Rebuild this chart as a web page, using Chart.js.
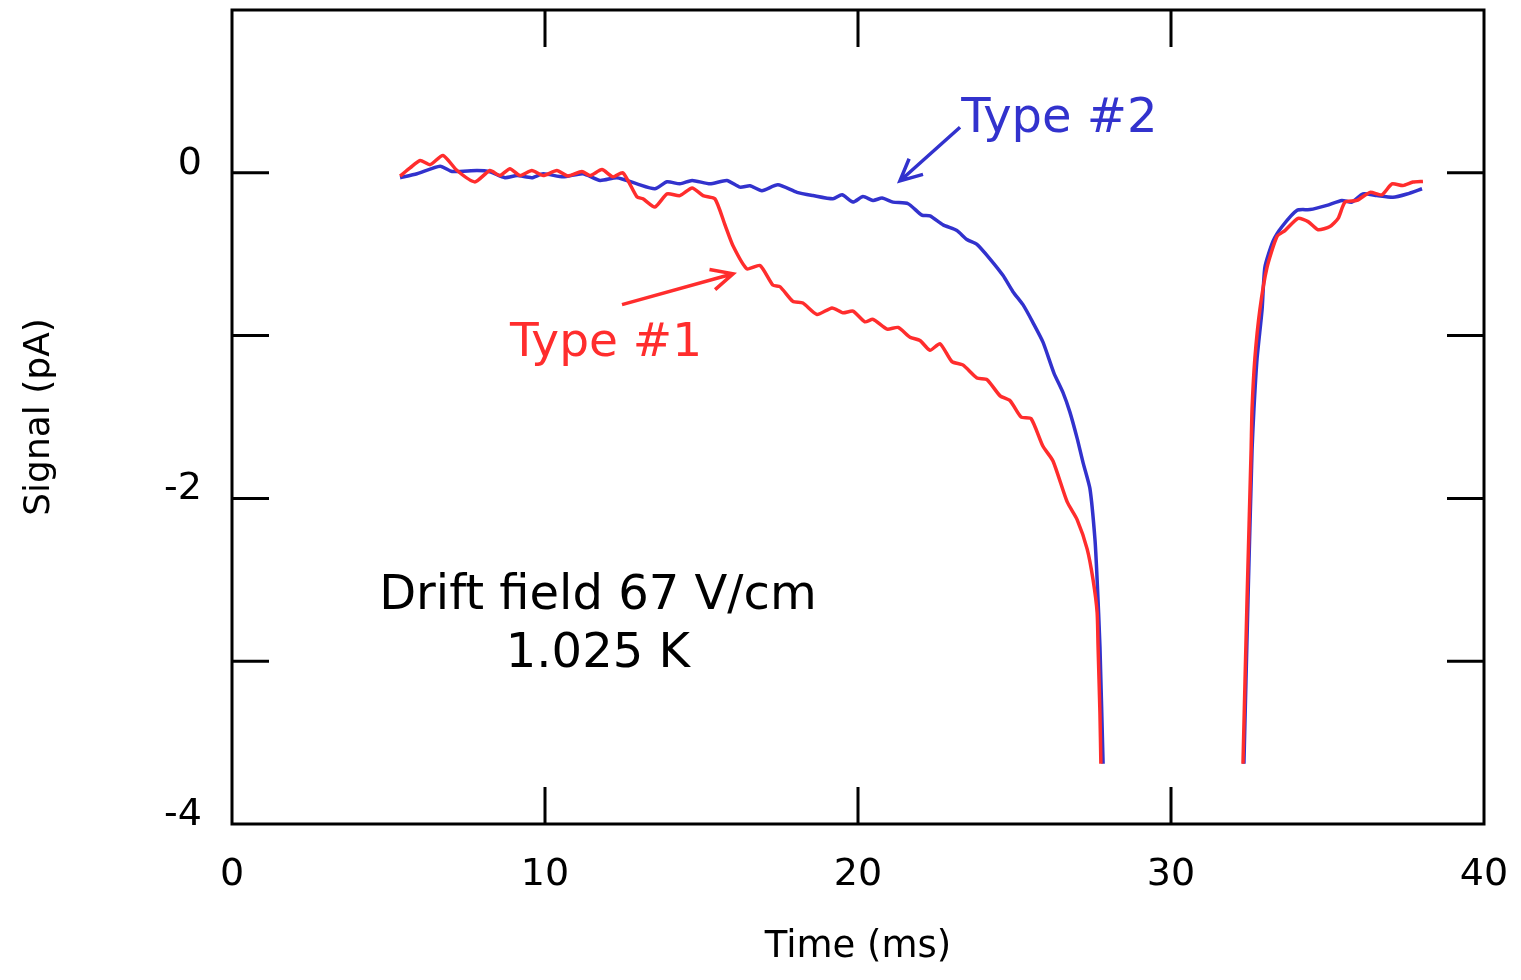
<!DOCTYPE html>
<html>
<head>
<meta charset="utf-8">
<script src="https://cdn.jsdelivr.net/npm/chart.js@4.4.1/dist/chart.umd.min.js"></script>
<style>
    html, body { margin: 0; padding: 0; background: #fff; }
    #wrap { width: 1521px; height: 980px; }
</style>
</head>
<body>
<div id="wrap"><canvas id="signalChart" width="1521" height="980"></canvas></div>
<script>
// Données (temps en ms, signal en pA)
const type1Time = [5.37, 5.69, 6.01, 6.33, 6.74, 7.19, 7.76, 8.24, 8.56, 8.88, 9.20, 9.58, 9.94, 10.38, 10.73, 11.18, 11.44, 11.82, 12.17, 12.49,
    12.94, 13.13, 13.51, 13.90, 14.31, 14.70, 15.05, 15.43, 15.75, 16.01, 16.45, 16.87, 17.28, 17.51, 17.92, 18.24, 18.69, 19.17, 19.52, 19.84,
    20.22, 20.48, 20.93, 21.28, 21.66, 21.98, 22.30, 22.62, 23.00, 23.35, 23.80, 24.12, 24.54, 24.86, 25.21, 25.53, 25.91, 26.23, 26.68, 27.00,
    27.32, 27.51, 27.64, 27.67, 27.73, 27.76, 30.0,
    32.30, 32.43, 32.56, 32.59, 32.68, 32.84, 33.07, 33.39, 33.64, 34.06, 34.38, 34.70, 35.08, 35.34, 35.56, 35.94, 36.36, 36.74, 37.06,
    37.41, 37.73, 38.05];
const type1Signal = [-0.02, 0.03, 0.076, 0.05, 0.106, 0.014, -0.056, 0.014, -0.017, 0.025, -0.017, 0.014, -0.017, 0.014, -0.02, 0.008, -0.017, 0.02, -0.025, 0.0,
    -0.148, -0.16, -0.21, -0.13, -0.14, -0.093, -0.14, -0.16, -0.32, -0.45, -0.59, -0.57, -0.69, -0.70, -0.79, -0.80, -0.87, -0.83, -0.86, -0.85,
    -0.915, -0.90, -0.96, -0.95, -1.01, -1.03, -1.09, -1.05, -1.16, -1.18, -1.26, -1.27, -1.37, -1.40, -1.50, -1.51, -1.68, -1.77, -2.02, -2.13,
    -2.31, -2.50, -2.70, -2.91, -3.32, -3.63, null,
    -3.63, -2.62, -1.70, -1.45, -1.14, -0.84, -0.58, -0.39, -0.355, -0.28, -0.30, -0.35, -0.33, -0.28, -0.18, -0.17, -0.12, -0.135, -0.068,
    -0.078, -0.057, -0.053];

const type2Time = [5.37, 5.91, 6.65, 7.03, 7.83, 8.24, 8.72, 9.11, 9.58, 9.94, 10.58, 11.21, 11.76, 12.30, 12.94, 13.51, 13.90, 14.31, 14.70, 15.27,
    15.81, 16.23, 16.55, 16.93, 17.44, 18.05, 18.56, 19.20, 19.49, 19.84, 20.16, 20.48, 20.77, 21.12, 21.60, 22.04, 22.30, 22.72, 23.16, 23.48,
    23.80, 24.22, 24.63, 24.95, 25.27, 25.59, 25.91, 26.26, 26.55, 26.77, 27.00, 27.19, 27.41, 27.57, 27.64, 27.73, 27.83, 30.0,
    32.33, 32.46, 32.59, 32.65, 32.75, 32.91, 33.00, 33.26, 33.55, 34.03, 34.44, 34.98, 35.46, 35.78, 36.13, 36.58, 37.09, 37.54, 38.02];
const type2Signal = [-0.03, -0.006, 0.04, 0.008, 0.014, 0.006, -0.03, -0.017, -0.03, -0.006, -0.025, -0.006, -0.047, -0.03, -0.068, -0.098, -0.055, -0.068, -0.047, -0.068,
    -0.047, -0.088, -0.08, -0.11, -0.074, -0.12, -0.14, -0.16, -0.135, -0.18, -0.146, -0.17, -0.155, -0.18, -0.19, -0.26, -0.265, -0.32, -0.355, -0.41,
    -0.44, -0.53, -0.63, -0.73, -0.81, -0.92, -1.04, -1.23, -1.35, -1.47, -1.63, -1.78, -1.94, -2.25, -2.50, -2.91, -3.63, null,
    -3.63, -2.62, -1.70, -1.45, -1.14, -0.84, -0.58, -0.42, -0.33, -0.23, -0.226, -0.20, -0.17, -0.18, -0.13, -0.14, -0.15, -0.13, -0.098];

const xTicks = [0, 10, 20, 30, 40];
const yTicks = [-4, -3, -2, -1, 0, 1];
const yLabelled = [0, -2, -4];

const FONT = '"DejaVu Sans", "Noto Sans", sans-serif';
const BLUE = 'rgb(50, 50, 205)';
const RED = 'rgb(255, 45, 45)';

const toPoints = (xs, ys) => xs.map((x, i) => ({ x: x, y: ys[i] }));

// Cadre et graduations intérieures
const frameTicks = {
    id: 'frameTicks',
    afterDatasetsDraw(chart) {
        const { ctx, chartArea: a, scales: { x, y } } = chart;
        const len = 37;
        ctx.save();
        ctx.strokeStyle = '#000';
        ctx.lineWidth = 3;
        ctx.beginPath();
        xTicks.slice(1, -1).forEach(v => {
            const px = x.getPixelForValue(v);
            ctx.moveTo(px, a.bottom); ctx.lineTo(px, a.bottom - len);
            ctx.moveTo(px, a.top); ctx.lineTo(px, a.top + len);
        });
        yTicks.slice(1, -1).forEach(v => {
            const py = y.getPixelForValue(v);
            ctx.moveTo(a.left, py); ctx.lineTo(a.left + len, py);
            ctx.moveTo(a.right, py); ctx.lineTo(a.right - len, py);
        });
        ctx.stroke();
        ctx.strokeRect(a.left, a.top, a.right - a.left, a.bottom - a.top);
        ctx.restore();
    }
};

function arrow(ctx, x1, y1, x2, y2, color) {
    const ang = Math.atan2(y2 - y1, x2 - x1);
    const head = 24;
    ctx.strokeStyle = color;
    ctx.lineWidth = 3.5;
    ctx.beginPath();
    ctx.moveTo(x1, y1); ctx.lineTo(x2, y2);
    ctx.moveTo(x2 - head * Math.cos(ang - 0.45), y2 - head * Math.sin(ang - 0.45));
    ctx.lineTo(x2, y2);
    ctx.lineTo(x2 - head * Math.cos(ang + 0.45), y2 - head * Math.sin(ang + 0.45));
    ctx.stroke();
}

// Annotations (positions en coordonnées des données)
const notes = {
    id: 'notes',
    afterDraw(chart) {
        const { ctx, scales: { x, y } } = chart;
        ctx.save();
        ctx.textBaseline = 'middle';

        ctx.font = '48px ' + FONT;
        ctx.fillStyle = BLUE;
        ctx.textAlign = 'left';
        ctx.fillText('Type #2', x.getPixelForValue(23.3), y.getPixelForValue(0.33));
        arrow(ctx, x.getPixelForValue(23.26), y.getPixelForValue(0.28),
            x.getPixelForValue(21.34), y.getPixelForValue(-0.05), BLUE);

        ctx.fillStyle = RED;
        ctx.font = '47px ' + FONT;
        ctx.fillText('Type #1', x.getPixelForValue(8.88), y.getPixelForValue(-1.05));
        arrow(ctx, x.getPixelForValue(12.46), y.getPixelForValue(-0.81),
            x.getPixelForValue(16.01), y.getPixelForValue(-0.62), RED);

        ctx.fillStyle = '#000';
        ctx.textAlign = 'center';
        ctx.font = '48px ' + FONT;
        ctx.fillText('Drift field 67 V/cm', x.getPixelForValue(11.69), y.getPixelForValue(-2.60));
        ctx.fillText('1.025 K', x.getPixelForValue(11.69), y.getPixelForValue(-2.96));
        ctx.restore();
    }
};

const ctx = document.getElementById('signalChart').getContext('2d');
const signalChart = new Chart(ctx, {
    type: 'line',
    data: {
        datasets: [{
            label: 'Type #1',
            data: toPoints(type1Time, type1Signal),
            borderColor: RED,
            borderWidth: 3.5,
            pointRadius: 0,
            tension: 0.2,
            spanGaps: false
        }, {
            label: 'Type #2',
            data: toPoints(type2Time, type2Signal),
            borderColor: BLUE,
            borderWidth: 3.5,
            pointRadius: 0,
            tension: 0.2,
            spanGaps: false
        }]
    },
    options: {
        responsive: false,
        animation: false,
        layout: { padding: { top: 10, right: 37, left: 0, bottom: 0 } },
        plugins: {
            legend: { display: false },
            tooltip: { enabled: false }
        },
        scales: {
            x: {
                type: 'linear',
                min: 0,
                max: 40,
                afterFit: scale => {
                    scale.height = 156;
                    scale.paddingLeft = 0;
                    scale.paddingRight = 0;
                },
                afterBuildTicks: scale => { scale.ticks = xTicks.map(v => ({ value: v })); },
                grid: { display: false, drawTicks: false },
                border: { display: false },
                ticks: {
                    color: '#000',
                    font: { family: FONT, size: 38 },
                    padding: 28,
                    maxRotation: 0
                },
                title: {
                    display: true,
                    text: 'Time (ms)',
                    color: '#000',
                    font: { family: FONT, size: 37 },
                    padding: { top: 0, bottom: 10 }
                }
            },
            y: {
                type: 'linear',
                min: -4,
                max: 1,
                afterFit: scale => {
                    scale.width = 232;
                    scale.paddingTop = 0;
                    scale.paddingBottom = 0;
                },
                afterBuildTicks: scale => { scale.ticks = yTicks.map(v => ({ value: v })); },
                grid: { display: false, drawTicks: false },
                border: { display: false },
                ticks: {
                    color: '#000',
                    font: { family: FONT, size: 38 },
                    padding: 30,
                    labelOffset: -9,
                    callback: v => yLabelled.includes(v) ? String(v) : ''
                },
                title: {
                    display: true,
                    text: 'Signal (pA)',
                    color: '#000',
                    font: { family: FONT, size: 36 },
                    padding: { top: 18, bottom: 0 }
                }
            }
        }
    },
    plugins: [frameTicks, notes]
});
</script>
</body>
</html>
